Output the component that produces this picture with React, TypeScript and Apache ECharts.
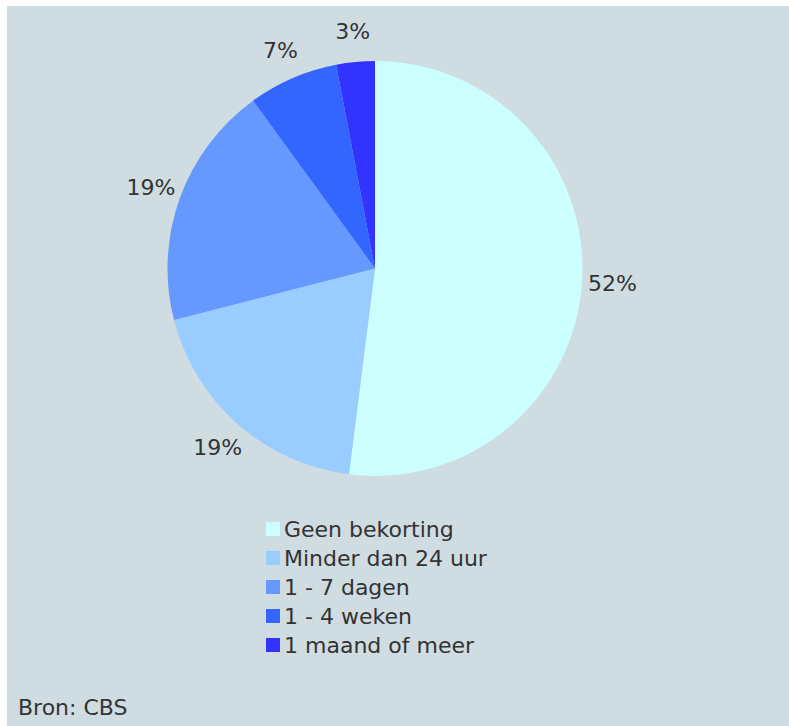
import React, { useEffect, useRef } from "react";
import * as echarts from "echarts";

const categories = ["Geen bekorting", "Minder dan 24 uur", "1 - 7 dagen", "1 - 4 weken", "1 maand of meer"];
const values = [52, 19, 19, 7, 3];
const colors = ["#ccffff", "#99ccff", "#6699ff", "#3366ff", "#3333ff"];
const sourceText = "Bron: CBS";

const FONT = "'DejaVu Sans', Verdana, sans-serif";
const TEXT = "#333333";

export default function App() {
  const ref = useRef<HTMLDivElement>(null);
  useEffect(() => {
    if (!ref.current) return;
    const chart = echarts.init(ref.current, null, { renderer: "svg" });
    const data = categories.map((name, i) => ({ name, value: values[i] }));
    chart.setOption({
      animation: false,
      backgroundColor: "#ffffff",
      color: colors,
      graphic: [
        {
          type: "rect",
          z: -10,
          silent: true,
          shape: { x: 7, y: 6, width: 782, height: 720 },
          style: { fill: "#cfdce1" },
        },
        {
          type: "text",
          x: 18,
          y: 707,
          style: { text: sourceText, font: `22px ${FONT}`, fill: TEXT, verticalAlign: "middle" },
        },
      ],
      legend: {
        orient: "vertical",
        left: 261,
        top: 518,
        padding: [0, 5, 0, 5],
        itemWidth: 14,
        itemHeight: 14,
        itemGap: 7,
        icon: "rect",
        selectedMode: false,
        data: categories,
        textStyle: { fontFamily: FONT, fontSize: 22, color: TEXT, padding: [0, 0, 0, -1] },
      },
      series: [
        {
          type: "pie",
          center: [375, 268.5],
          radius: [0, 207.5],
          startAngle: 90,
          clockwise: true,
          silent: true,
          label: { show: false },
          labelLine: { show: false },
          data: data.map((d, i) => ({ ...d, itemStyle: { color: colors[i] } })),
        },
        {
          type: "pie",
          center: [375, 268.5],
          radius: [230, 240],
          startAngle: 90,
          clockwise: true,
          silent: true,
          itemStyle: { color: "rgba(0,0,0,0)" },
          label: {
            show: true,
            position: "inside",
            formatter: "{c}%",
            fontFamily: FONT,
            fontSize: 22,
            color: TEXT,
          },
          labelLine: { show: false },
          data,
        },
      ],
    });
    return () => chart.dispose();
  }, []);
  return (
    <div
      ref={ref}
      style={{ position: "fixed", left: 0, top: 0, width: 789, height: 726 }}
    />
  );
}
